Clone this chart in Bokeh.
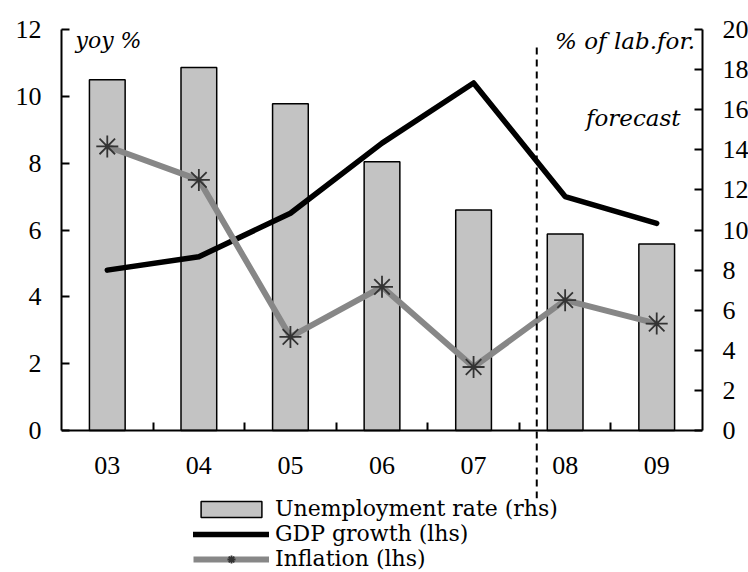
from bokeh.plotting import figure
from bokeh.models import (Range1d, LinearAxis, FixedTicker, Legend, LegendItem,
                          Label, Arrow, ColumnDataSource)
from bokeh.embed import file_html
from bokeh.resources import INLINE

years = ["03", "04", "05", "06", "07", "08", "09"]
unemployment = [17.5, 18.1, 16.3, 13.4, 11.0, 9.8, 9.3]   # rhs, % of labour force
gdp_growth = [4.8, 5.2, 6.5, 8.6, 10.4, 7.0, 6.2]          # lhs, yoy %
inflation = [8.5, 7.5, 2.8, 4.3, 1.9, 3.9, 3.2]            # lhs, yoy %
left_ticks = [0, 2, 4, 6, 8, 10, 12]
right_ticks = [0, 2, 4, 6, 8, 10, 12, 14, 16, 18, 20]
forecast_start = 5.19

xpos = [i + 0.5 for i in range(len(years))]
src = ColumnDataSource(dict(x=xpos, u=unemployment, g=gdp_growth, inf=inflation))

SERIF = "Liberation Serif"

# frame extends below the x axis so the forecast divider and legend can sit there
p = figure(frame_width=641, frame_height=543,
           x_range=Range1d(0, 7), y_range=Range1d(-4.249, 12),
           output_backend="svg", toolbar_location=None,
           min_border_left=61, min_border_right=46, min_border_top=29,
           min_border_bottom=0, x_axis_location=None, y_axis_location=None)
p.extra_y_ranges = {"rhs": Range1d(-7.082, 20)}
p.outline_line_color = None
p.grid.visible = False
p.background_fill_color = "white"
p.border_fill_color = "white"

def style_axis(ax):
    ax.axis_line_width = 2
    ax.axis_line_color = "black"
    ax.major_tick_in = 8
    ax.major_tick_out = 0
    ax.major_tick_line_width = 2
    ax.minor_tick_line_color = None
    ax.major_label_text_font = SERIF
    ax.major_label_text_font_size = "26px"
    ax.major_label_text_color = "black"
    ax.major_label_standoff = 20

xaxis = LinearAxis(ticker=FixedTicker(ticks=xpos, minor_ticks=[1, 2, 3, 4, 5, 6]),
                   major_label_overrides={x: y for x, y in zip(xpos, years)},
                   fixed_location=0)
style_axis(xaxis)
xaxis.major_tick_line_color = None
xaxis.minor_tick_line_color = "black"
xaxis.minor_tick_line_width = 2
xaxis.minor_tick_in = 8
xaxis.minor_tick_out = 0
xaxis.major_label_standoff = 26
p.add_layout(xaxis, "below")

laxis = LinearAxis(ticker=FixedTicker(ticks=left_ticks), bounds=(0, 12))
style_axis(laxis)
p.add_layout(laxis, "left")

raxis = LinearAxis(y_range_name="rhs", ticker=FixedTicker(ticks=right_ticks), bounds=(0, 20))
style_axis(raxis)
p.add_layout(raxis, "right")

bars = p.vbar(x="x", top="u", width=0.39, bottom=0, source=src, y_range_name="rhs",
              fill_color="#c3c3c3", line_color="black", line_width=1.5)
gl = p.line("x", "g", source=src, line_color="black", line_width=5.5,
            line_join="round", line_cap="round")
il = p.line("x", "inf", source=src, line_color="#878787", line_width=6,
            line_join="round")
im = p.scatter("x", "inf", source=src, marker="asterisk", size=22,
               line_color="#333333", line_width=1.8)

p.add_layout(Arrow(end=None, x_start=forecast_start, x_end=forecast_start,
                   y_start=11.46, y_end=-2.03, line_color="black", line_width=2,
                   line_dash="7 5"))

lab_kw = dict(text_font="DejaVu Serif", text_font_style="italic",
              text_color="black", text_baseline="alphabetic")
p.add_layout(Label(x=0.153, y=11.66, text="yoy %", text_font_size="22px", **lab_kw))
p.add_layout(Label(x=6.92, y=11.66, text="% of lab.for.", text_align="right",
                   text_font_size="23px", **lab_kw))
p.add_layout(Label(x=6.76, y=9.36, text="forecast", text_align="right",
                   text_font_size="23px", **lab_kw))

legend = Legend(items=[
    LegendItem(label="Unemployment rate (rhs)", renderers=[bars]),
    LegendItem(label="GDP growth (lhs)", renderers=[gl]),
    LegendItem(label="Inflation (lhs)", renderers=[il, im]),
], location=(132, 1), orientation="vertical",
   glyph_width=76, glyph_height=20, label_standoff=6, spacing=-2,
   padding=0, margin=0, border_line_color=None, background_fill_alpha=0,
   label_text_font="DejaVu Serif", label_text_font_size="22px",
   label_text_color="black", label_height=20)
p.add_layout(legend, "center")

open("out.html", "w").write(file_html(p, INLINE))
